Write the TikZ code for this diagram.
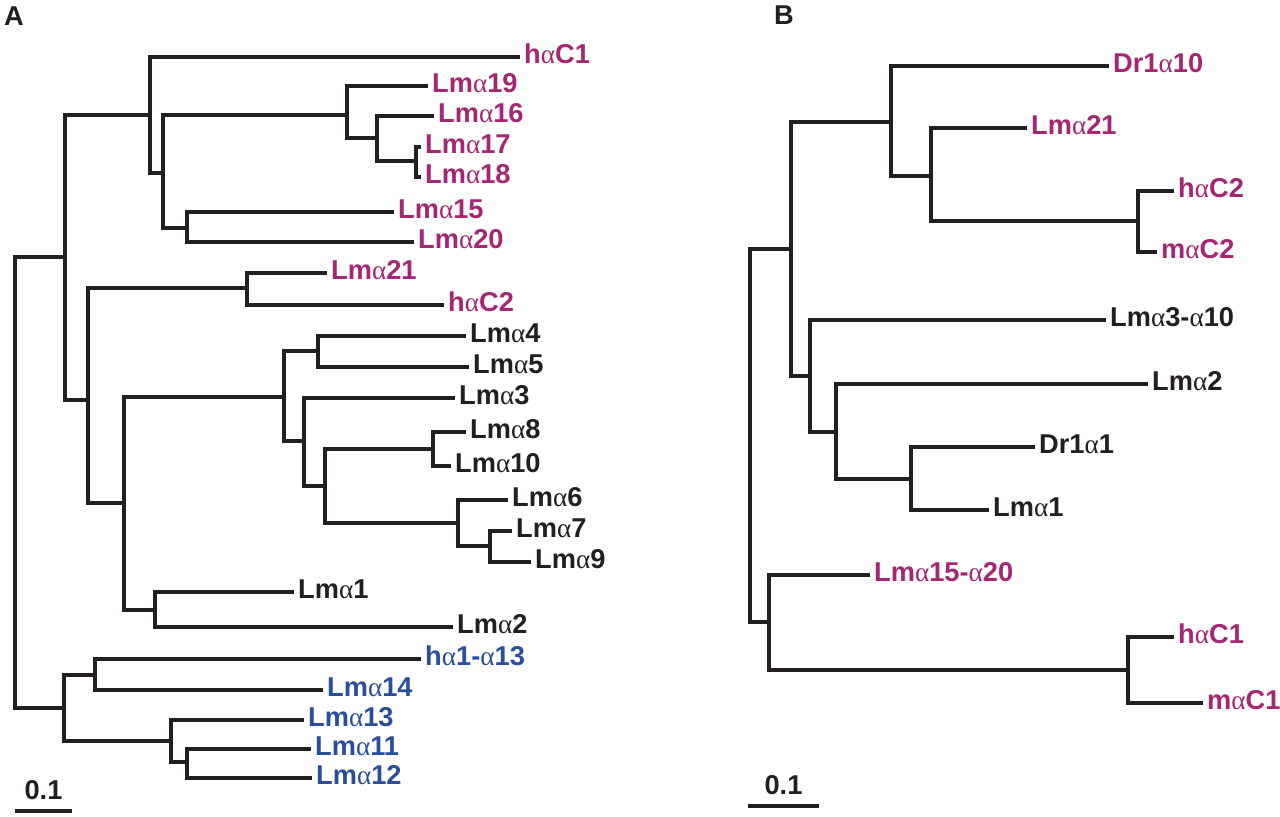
\documentclass[tikz,border=0pt]{standalone}
\usepackage{fontspec}
\setmainfont{Liberation Sans}
\newfontfamily\grkfont{Liberation Serif}
\usetikzlibrary{positioning}
\definecolor{treemag}{RGB}{166,38,116}
\definecolor{treeblue}{RGB}{41,78,158}
\definecolor{treeink}{RGB}{35,31,32}
\newcommand{\al}{{\grkfont\mdseries α}}

\begin{document}
\begin{tikzpicture}[x=0.02cm, y=-0.02cm,
  branch/.style={draw=treeink, line width=2.5pt, line join=miter},
  leaf/.style={anchor=west, inner xsep=2.2pt, inner ysep=0pt, text height=0.72em, text depth=0pt,
    font=\fontsize{15.5}{17}\selectfont\bfseries, text=treeink},
  mag/.style={leaf, text=treemag},
  blu/.style={leaf, text=treeblue},
  panel/.style={font=\fontsize{15.5}{17}\selectfont\bfseries, inner sep=0pt, text=treeink}]
\useasboundingbox (0,0) rectangle (1280,816);

% panel A
\coordinate (aR) at (15,483);
\coordinate (a0) at (65,257);
\coordinate (a1) at (150,115);
\coordinate (a2) at (163,173);
\coordinate (a3) at (347,115);
\coordinate (a4) at (377,138);
\coordinate (a5) at (416,161);
\coordinate (a6) at (187,228);
\coordinate (a7) at (88,400);
\coordinate (a8) at (247,288);
\coordinate (a9) at (124,503);
\coordinate (a10) at (284,397);
\coordinate (a11) at (318,351);
\coordinate (a12) at (304,441);
\coordinate (a13) at (325,486);
\coordinate (a14) at (433,449);
\coordinate (a15) at (458,523);
\coordinate (a17) at (490,546);
\coordinate (a16) at (155,610);
\coordinate (a18) at (64,708);
\coordinate (a19) at (95,675);
\coordinate (a20) at (171,741);
\coordinate (a21) at (187,762);

\node[mag] (AhC1) at (520,57) {h\al C1};
\node[mag] (A19) at (428,86) {Lm\al 19};
\node[mag] (A16) at (434,116) {Lm\al 16};
\node[mag] (A17) at (421,147) {Lm\al 17};
\node[mag] (A18) at (421,177) {Lm\al 18};
\node[mag] (A15) at (394,212) {Lm\al 15};
\node[mag] (A20) at (414,242) {Lm\al 20};
\node[mag] (A21) at (327,273) {Lm\al 21};
\node[mag] (AhC2) at (444,305) {h\al C2};
\node[leaf] (A4) at (466,336) {Lm\al 4};
\node[leaf] (A5) at (469,367) {Lm\al 5};
\node[leaf] (A3) at (455,398) {Lm\al 3};
\node[leaf] (A8) at (466,432) {Lm\al 8};
\node[leaf] (A10) at (451,466) {Lm\al 10};
\node[leaf] (A6) at (508,500) {Lm\al 6};
\node[leaf] (A7) at (512,531) {Lm\al 7};
\node[leaf] (A9) at (531,562) {Lm\al 9};
\node[leaf] (A1) at (294,592) {Lm\al 1};
\node[leaf] (A2) at (453,627) {Lm\al 2};
\node[blu] (Ah113) at (421,659) {h\al 1-\al 13};
\node[blu] (A14) at (323,690) {Lm\al 14};
\node[blu] (A13) at (304,720) {Lm\al 13};
\node[blu] (A11) at (311,749) {Lm\al 11};
\node[blu] (A12) at (312,778) {Lm\al 12};

\draw[branch] (aR) |- (a0);
\draw[branch] (aR) |- (a18);
\draw[branch] (a0) |- (a1);
\draw[branch] (a0) |- (a7);
\draw[branch] (a1) |- (AhC1.west);
\draw[branch] (a1) |- (a2);
\draw[branch] (a2) |- (a3);
\draw[branch] (a2) |- (a6);
\draw[branch] (a3) |- (A19.west);
\draw[branch] (a3) |- (a4);
\draw[branch] (a4) |- (A16.west);
\draw[branch] (a4) |- (a5);
\draw[branch] (a5) |- (A17.west);
\draw[branch] (a5) |- (A18.west);
\draw[branch] (a6) |- (A15.west);
\draw[branch] (a6) |- (A20.west);
\draw[branch] (a7) |- (a8);
\draw[branch] (a7) |- (a9);
\draw[branch] (a8) |- (A21.west);
\draw[branch] (a8) |- (AhC2.west);
\draw[branch] (a9) |- (a10);
\draw[branch] (a9) |- (a16);
\draw[branch] (a10) |- (a11);
\draw[branch] (a10) |- (a12);
\draw[branch] (a11) |- (A4.west);
\draw[branch] (a11) |- (A5.west);
\draw[branch] (a12) |- (A3.west);
\draw[branch] (a12) |- (a13);
\draw[branch] (a13) |- (a14);
\draw[branch] (a13) |- (a15);
\draw[branch] (a14) |- (A8.west);
\draw[branch] (a14) |- (A10.west);
\draw[branch] (a15) |- (A6.west);
\draw[branch] (a15) |- (a17);
\draw[branch] (a17) |- (A7.west);
\draw[branch] (a17) |- (A9.west);
\draw[branch] (a16) |- (A1.west);
\draw[branch] (a16) |- (A2.west);
\draw[branch] (a18) |- (a19);
\draw[branch] (a18) |- (a20);
\draw[branch] (a19) |- (Ah113.west);
\draw[branch] (a19) |- (A14.west);
\draw[branch] (a20) |- (A13.west);
\draw[branch] (a20) |- (a21);
\draw[branch] (a21) |- (A11.west);
\draw[branch] (a21) |- (A12.west);

% panel B
\coordinate (bR) at (750,435);
\coordinate (b1) at (791,249);
\coordinate (b2) at (891,122);
\coordinate (b3) at (931,176);
\coordinate (b4) at (1138,221);
\coordinate (b5) at (810,376);
\coordinate (b6) at (836,432);
\coordinate (b7) at (911,479);
\coordinate (b8) at (769,622);
\coordinate (b9) at (1128,670);

\node[mag] (BDr10) at (1109,66) {Dr1\al 10};
\node[mag] (B21) at (1027,128) {Lm\al 21};
\node[mag] (BhC2) at (1174,191) {h\al C2};
\node[mag] (BmC2) at (1157,252) {m\al C2};
\node[leaf] (B310) at (1106,320) {Lm\al 3-\al 10};
\node[leaf] (B2) at (1148,384) {Lm\al 2};
\node[leaf] (BDr1) at (1035,447) {Dr1\al 1};
\node[leaf] (B1) at (989,510) {Lm\al 1};
\node[mag] (B1520) at (870,575) {Lm\al 15-\al 20};
\node[mag] (BhC1) at (1174,637) {h\al C1};
\node[mag] (BmC1) at (1203,703) {m\al C1};

\draw[branch] (bR) |- (b1);
\draw[branch] (bR) |- (b8);
\draw[branch] (b1) |- (b2);
\draw[branch] (b1) |- (b5);
\draw[branch] (b2) |- (BDr10.west);
\draw[branch] (b2) |- (b3);
\draw[branch] (b3) |- (B21.west);
\draw[branch] (b3) |- (b4);
\draw[branch] (b4) |- (BhC2.west);
\draw[branch] (b4) |- (BmC2.west);
\draw[branch] (b5) |- (B310.west);
\draw[branch] (b5) |- (b6);
\draw[branch] (b6) |- (B2.west);
\draw[branch] (b6) |- (b7);
\draw[branch] (b7) |- (BDr1.west);
\draw[branch] (b7) |- (B1.west);
\draw[branch] (b8) |- (B1520.west);
\draw[branch] (b8) |- (b9);
\draw[branch] (b9) |- (BhC1.west);
\draw[branch] (b9) |- (BmC1.west);

% panel letters and scale bars
\node[panel] (labA) at (14,16) {A};
\node[panel] (labB) at (784,15) {B};
\coordinate (sA1) at (15,811);
\coordinate (sA2) at (72,811);
\coordinate (sB1) at (748,806);
\coordinate (sB2) at (819,806);
\draw[branch] (sA1) -- node[panel, above=5pt] (barA) {0.1} (sA2);
\draw[branch] (sB1) -- node[panel, above=5pt] (barB) {0.1} (sB2);
\end{tikzpicture}
\end{document}
